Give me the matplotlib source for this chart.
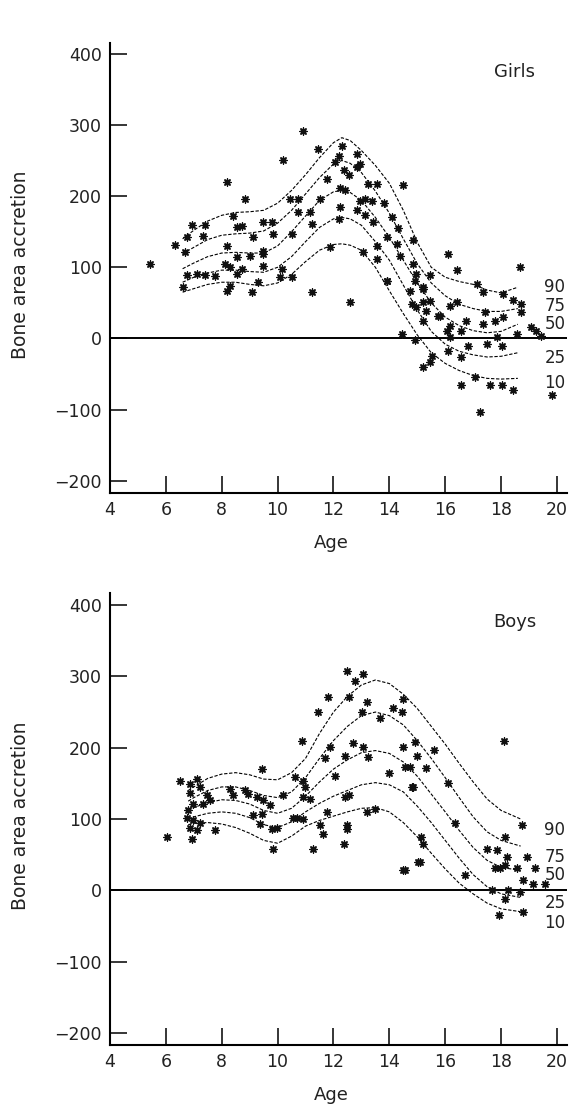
import numpy as np
import matplotlib.pyplot as plt

# ---- girls: observed points (age, bone area accretion)
girls_age = [5.43, 6.33, 6.62, 6.74, 7.10, 7.40, 6.92, 7.40, 6.74, 7.34, 6.68, 7.76,
             8.18, 8.41, 8.53, 8.71, 8.83, 8.18, 8.12, 8.30, 8.53, 8.53, 8.71, 8.30,
             8.18, 9.13, 9.01, 9.07, 9.49, 9.79, 9.85, 9.49, 9.49, 9.49, 9.31, 10.20,
             10.92, 10.44, 10.74, 10.74, 10.50, 10.14, 10.08, 10.50, 11.16, 11.22, 11.22, 11.46,
             11.52, 11.76, 12.06, 12.18, 12.30, 12.24, 12.42, 12.24, 12.36, 12.54, 12.18, 11.88,
             12.60, 12.83, 12.83, 12.95, 12.83, 13.13, 12.95, 13.13, 13.37, 13.25, 13.55, 13.43,
             13.07, 13.55, 13.55, 13.91, 13.91, 14.26, 14.86, 14.38, 14.86, 14.97, 13.90, 14.74,
             15.21, 14.80, 15.21, 15.33, 15.21, 15.75, 16.17, 16.06, 16.17, 14.44, 14.92, 16.82,
             15.51, 16.11, 16.58, 15.45, 15.21, 17.06, 16.58, 17.60, 18.02, 18.44, 17.24, 19.81,
             16.11, 16.41, 18.67, 17.13, 17.37, 18.08, 18.44, 18.73, 18.73, 17.43, 17.79, 18.08,
             17.37, 17.85, 18.56, 17.49, 18.02, 16.58, 16.76, 15.81, 16.17, 16.41, 15.45, 14.97,
             15.21, 15.45, 14.91, 19.06, 19.24, 19.42, 14.50, 13.80, 14.10, 14.30]
girls_val = [105, 131, 72, 89, 91, 89, 159, 159, 142, 144, 121, 88,
             220, 172, 156, 158, 196, 130, 105, 100, 114, 91, 98, 74,
             67, 142, 116, 65, 163, 163, 147, 123, 102, 119, 79, 250,
             292, 196, 196, 177, 147, 98, 86, 86, 177, 161, 65, 266,
             196, 224, 248, 257, 271, 212, 208, 184, 236, 229, 168, 128,
             51, 259, 241, 245, 180, 173, 193, 196, 193, 217, 217, 163,
             121, 130, 111, 142, 81, 133, 138, 116, 105, 91, 81, 67,
             72, 49, 51, 39, 25, 32, 18, 11, 2, 7, -2, -10,
             -24, -17, -26, -33, -40, -54, -66, -66, -66, -73, -103, -80,
             119, 96, 100, 77, 65, 63, 54, 49, 37, 37, 25, 30,
             20, 2, 7, -8, -10, 11, 25, 32, 46, 51, 53, 44,
             70, 89, 81, 16, 11, 4, 215, 190, 170, 155]

# ---- boys: observed points
boys_age = [6.03, 6.51, 6.87, 7.10, 6.87, 7.22, 7.46, 7.58, 6.98, 7.34, 6.74, 6.98,
            7.22, 6.87, 7.10, 6.92, 6.80, 7.76, 8.29, 8.41, 8.83, 8.95, 9.25, 9.49,
            9.73, 9.43, 9.13, 9.43, 9.37, 9.79, 9.97, 9.85, 10.20, 10.62, 10.92, 10.98,
            10.92, 10.56, 10.68, 10.92, 11.16, 10.86, 11.46, 11.52, 11.64, 11.28, 11.76, 11.88,
            11.70, 12.06, 11.82, 12.42, 12.42, 12.54, 12.48, 12.48, 12.36, 12.48, 12.78, 13.07,
            12.54, 13.19, 13.01, 12.71, 13.07, 13.25, 13.67, 13.97, 14.50, 14.14, 14.44, 14.50,
            14.56, 14.74, 14.80, 13.49, 13.19, 14.50, 15.04, 14.92, 14.86, 16.11, 15.15, 15.21,
            15.09, 14.56, 16.70, 16.35, 17.48, 17.85, 18.14, 18.20, 18.14, 17.97, 17.79, 18.56,
            18.92, 18.74, 19.21, 18.80, 19.16, 19.57, 17.67, 18.14, 18.26, 18.68, 17.91, 18.80,
            18.10, 15.00, 15.30, 15.60]
boys_val = [75, 154, 149, 156, 136, 145, 133, 126, 121, 121, 102, 98,
            95, 88, 84, 72, 112, 84, 142, 133, 140, 135, 131, 126,
            119, 170, 105, 107, 93, 86, 88, 58, 133, 159, 154, 145,
            131, 102, 102, 100, 128, 210, 250, 91, 79, 58, 110, 201,
            185, 161, 271, 189, 131, 133, 91, 86, 65, 308, 294, 303,
            271, 264, 250, 206, 201, 187, 241, 164, 269, 255, 250, 201,
            173, 173, 145, 114, 110, 28, 40, 208, 145, 150, 75, 65,
            40, 28, 21, 94, 58, 56, 75, 47, 35, 31, 31, 31,
            47, 91, 31, 14, 9, 9, 0, -12, 0, -2, -35, -30,
            210, 188, 172, 197]

# ---- fitted centile curves
girls_curve_age = [6.6, 7.0, 7.5, 8.0, 8.5, 9.0, 9.5, 10.0, 10.5, 11.0, 11.5, 12.0, 12.3,
                   12.6, 13.0, 13.5, 14.0, 14.5, 15.0, 15.5, 16.0, 16.5, 17.0, 17.5, 18.0, 18.6]
girls_p90 = [140, 152, 165, 173, 177, 178, 180, 190, 208, 230, 254, 275, 282,
             278, 264, 243, 218, 180, 135, 100, 86, 80, 76, 68, 64, 72]
girls_p75 = [119, 128, 139, 145, 147, 148, 151, 162, 180, 203, 226, 245, 250,
             246, 233, 207, 176, 140, 105, 78, 60, 48, 42, 38, 38, 42]
girls_p50 = [98, 106, 115, 120, 121, 120, 120, 130, 150, 172, 194, 206, 208,
             205, 194, 170, 142, 110, 78, 50, 30, 18, 11, 8, 10, 20]
girls_p25 = [79, 86, 92, 96, 96, 94, 93, 100, 115, 136, 156, 168, 170,
             168, 159, 136, 110, 75, 40, 10, -8, -18, -23, -26, -25, -20]
girls_p10 = [65, 70, 76, 79, 79, 76, 74, 78, 90, 108, 124, 132, 133,
             131, 124, 100, 67, 35, 5, -20, -35, -45, -52, -56, -57, -56]

boys_curve_age = [6.8, 7.0, 7.5, 8.0, 8.5, 9.0, 9.5, 10.0, 10.5, 11.0, 11.5, 12.0, 12.5,
                  13.0, 13.5, 14.0, 14.5, 15.0, 15.5, 16.0, 16.5, 17.0, 17.5, 18.0, 18.7]
boys_p90 = [140, 145, 157, 163, 165, 162, 156, 155, 165, 185, 220, 250, 272,
            288, 295, 290, 275, 255, 230, 205, 178, 152, 128, 112, 100]
boys_p75 = [125, 130, 140, 145, 145, 140, 133, 130, 138, 158, 185, 210, 230,
            245, 250, 245, 232, 210, 185, 158, 130, 103, 82, 70, 62]
boys_p50 = [112, 116, 123, 127, 126, 121, 112, 108, 115, 132, 152, 170, 183,
            193, 196, 192, 180, 160, 135, 110, 84, 60, 42, 32, 28]
boys_p25 = [100, 103, 108, 110, 108, 102, 92, 88, 96, 110, 122, 132, 140,
            148, 151, 148, 138, 118, 95, 70, 45, 22, 5, -5, -10]
boys_p10 = [92, 94, 95, 93, 88, 80, 70, 66, 76, 90, 98, 104, 110,
            115, 116, 110, 95, 75, 52, 30, 10, -5, -18, -26, -30]

centiles = ['90', '75', '50', '25', '10']
girls_label_y = [72, 45, 20, -27, -62]
boys_label_y = [84, 46, 21, -18, -46]

plt.rcParams['font.family'] = 'DejaVu Sans'

fig = plt.figure(figsize=(5.69, 11.08), dpi=100)
ax1 = fig.add_axes([110/569, 1 - 493/1108, 457/569, 450/1108])
ax2 = fig.add_axes([110/569, 1 - 1045/1108, 457/569, 452/1108])


def draw_panel(ax, age, val, c_age, curves, lab_y, title, ylim):
    ax.axhline(0, color='black', lw=1.4, zorder=1)
    for c in curves:
        ax.plot(c_age, c, color='black', lw=0.8, ls=(0, (3, 1.5)), zorder=2)
    # asterisk-like blobs
    ax.scatter(age, val, marker=(8, 2, 0), s=26, lw=1.0, color='#111111', zorder=3)
    ax.scatter(age, val, marker='o', s=7, color='#111111', zorder=3)
    for name, y in zip(centiles, lab_y):
        ax.text(19.55, y, name, fontsize=12, va='center', ha='left', color='#222222')
    ax.text(0.886, 0.935, title, transform=ax.transAxes, fontsize=13,
            ha='center', va='center', color='#222222')
    ax.set_xlim(4, 20.36)
    ax.set_ylim(*ylim)
    ax.set_xticks(np.arange(4, 21, 2))
    ax.set_yticks(np.arange(-200, 401, 100))
    ax.spines['top'].set_visible(False)
    ax.spines['right'].set_visible(False)
    ax.spines['left'].set_linewidth(1.5)
    ax.spines['bottom'].set_linewidth(1.5)
    ax.tick_params(direction='in', length=12, width=1.1, labelsize=12.5, pad=6,
                   labelcolor='#222222')
    ax.set_xlabel('Age', fontsize=13, color='#222222')
    ax.xaxis.set_label_coords(0.4836, -0.09)
    ax.set_ylabel('Bone area accretion', fontsize=13.5, color='#222222')
    ax.yaxis.set_label_coords(-0.175, 0.507)


draw_panel(ax1, girls_age, girls_val, girls_curve_age,
           [girls_p90, girls_p75, girls_p50, girls_p25, girls_p10],
           girls_label_y, 'Girls', (-217, 415))
draw_panel(ax2, boys_age, boys_val, boys_curve_age,
           [boys_p90, boys_p75, boys_p50, boys_p25, boys_p10],
           boys_label_y, 'Boys', (-217, 417))

fig.savefig('out.png', dpi=100)
